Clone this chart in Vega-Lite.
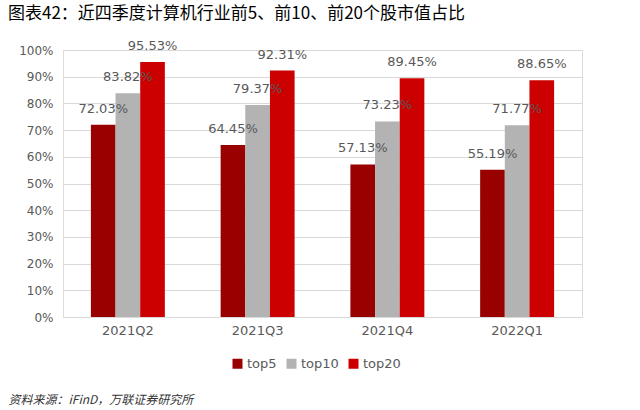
{
  "$schema": "https://vega.github.io/schema/vega-lite/v6.json",
  "width": 519,
  "height": 267,
  "autosize": "none",
  "padding": {"left": 63, "top": 50, "right": 58, "bottom": 93},
  "background": "white",
  "title": {
    "text": "图表42：近四季度计算机行业前5、前10、前20个股市值占比",
    "anchor": "start",
    "frame": "group",
    "dx": -55,
    "offset": 17,
    "font": "Noto Sans CJK SC",
    "fontSize": 17,
    "fontWeight": "normal",
    "color": "#000000"
  },
  "data": {
    "values": [
      {"quarter": "2021Q2", "series": "top5", "value": 0.7203},
      {"quarter": "2021Q2", "series": "top10", "value": 0.8382},
      {"quarter": "2021Q2", "series": "top20", "value": 0.9553},
      {"quarter": "2021Q3", "series": "top5", "value": 0.6445},
      {"quarter": "2021Q3", "series": "top10", "value": 0.7937},
      {"quarter": "2021Q3", "series": "top20", "value": 0.9231},
      {"quarter": "2021Q4", "series": "top5", "value": 0.5713},
      {"quarter": "2021Q4", "series": "top10", "value": 0.7323},
      {"quarter": "2021Q4", "series": "top20", "value": 0.8945},
      {"quarter": "2022Q1", "series": "top5", "value": 0.5519},
      {"quarter": "2022Q1", "series": "top10", "value": 0.7177},
      {"quarter": "2022Q1", "series": "top20", "value": 0.8865}
    ]
  },
  "encoding": {
    "x": {
      "field": "quarter",
      "type": "nominal",
      "sort": null,
      "scale": {"paddingInner": 0.43, "paddingOuter": 0.215},
      "axis": {
        "title": "资料来源：iFinD，万联证券研究所",
        "titleFont": "Noto Sans CJK SC",
        "titleFontSize": 12,
        "titleFontStyle": "italic",
        "titleFontWeight": "normal",
        "titleColor": "#333333",
        "titleAlign": "left",
        "titleAnchor": null,
        "titleX": -55,
        "titleY": 77,
        "labelAngle": 0,
        "labelFont": "DejaVu Sans",
        "labelFontSize": 13,
        "labelColor": "#595959",
        "labelPadding": 7,
        "ticks": false,
        "domainColor": "#D9D9D9",
        "grid": false
      }
    },
    "xOffset": {"field": "series", "type": "nominal", "sort": ["top5", "top10", "top20"]},
    "y": {
      "field": "value",
      "type": "quantitative",
      "scale": {"domain": [0, 1], "nice": false},
      "axis": {
        "title": null,
        "format": ".0%",
        "values": [0, 0.1, 0.2, 0.3, 0.4, 0.5, 0.6, 0.7, 0.8, 0.9, 1],
        "labelFont": "DejaVu Sans",
        "labelFontSize": 12,
        "labelColor": "#595959",
        "labelPadding": 10,
        "ticks": false,
        "domain": false,
        "grid": true,
        "gridColor": "#D9D9D9",
        "gridWidth": 1
      }
    }
  },
  "layer": [
    {
      "mark": {"type": "bar"},
      "encoding": {
        "color": {
          "field": "series",
          "type": "nominal",
          "sort": ["top5", "top10", "top20"],
          "scale": {"domain": ["top5", "top10", "top20"], "range": ["#990000", "#B3B3B3", "#CC0000"]},
          "legend": {
            "title": null,
            "orient": "none",
            "direction": "horizontal",
            "legendX": 168,
            "legendY": 307,
            "symbolType": "square",
            "symbolSize": 100,
            "symbolStrokeWidth": 0,
            "labelFont": "DejaVu Sans",
            "labelFontSize": 13,
            "labelColor": "#595959",
            "columnPadding": 8,
            "labelOffset": 3
          }
        }
      }
    },
    {
      "mark": {
        "type": "text",
        "baseline": "bottom",
        "dy": -9,
        "font": "DejaVu Sans",
        "fontSize": 13,
        "color": "#595959"
      },
      "encoding": {
        "text": {"field": "value", "type": "quantitative", "format": ".2%"}
      }
    }
  ]
}
